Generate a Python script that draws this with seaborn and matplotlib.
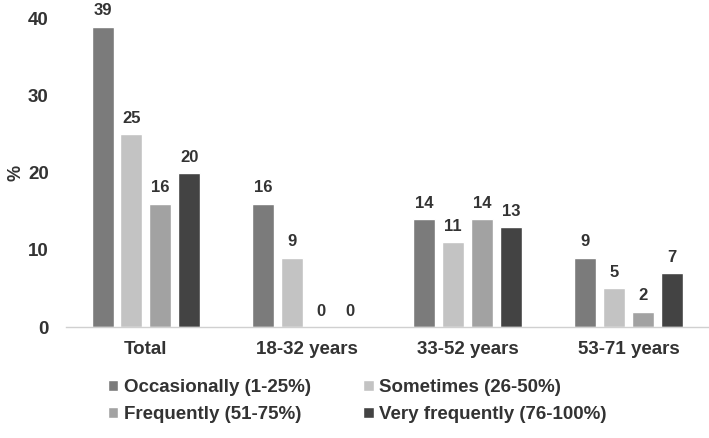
import matplotlib
matplotlib.use("Agg")
import matplotlib.pyplot as plt
import seaborn as sns
import pandas as pd

categories = ["Total", "18-32 years", "33-52 years", "53-71 years"]
series_names = ["Occasionally (1-25%)", "Sometimes (26-50%)",
                "Frequently (51-75%)", "Very frequently (76-100%)"]
occasionally = [39, 16, 14, 9]
sometimes = [25, 9, 11, 5]
frequently = [16, 0, 14, 2]
very_frequently = [20, 0, 13, 7]
colors = ["#7b7b7b", "#c3c3c3", "#a2a2a2", "#434343"]
y_ticks = [0, 10, 20, 30, 40]

rows = []
for name, vals in zip(series_names, [occasionally, sometimes, frequently, very_frequently]):
    for c, v in zip(categories, vals):
        rows.append({"group": c, "series": name, "value": v})
df = pd.DataFrame(rows)

sns.set_theme(style="white")
plt.rcParams["font.family"] = ["Liberation Sans", "DejaVu Sans"]
plt.rcParams["font.weight"] = "bold"

fig = plt.figure(figsize=(7.09, 4.38), dpi=100)
ax = fig.add_axes([0.0924, 0.2534, 0.9076, 0.7386])

sns.barplot(data=df, x="group", y="value", hue="series", order=categories,
            hue_order=series_names, palette=colors, width=0.72, gap=0.24,
            saturation=1, ax=ax, legend=True)

for cont in ax.containers:
    ax.bar_label(cont, fmt="%g", padding=6, fontsize=12, fontweight="bold",
                 color="#333333")

ax.set_ylim(0, 42)
ax.set_yticks(y_ticks)
ax.set_xlim(-0.5, 3.5)
ax.set_xlabel("")
ax.set_ylabel("%", fontsize=13, fontweight="bold", color="#333333")
ax.yaxis.set_label_coords(-0.064, 0.476)
ax.tick_params(axis="both", labelsize=13.5, colors="#333333", length=0)
for lab in ax.get_xticklabels() + ax.get_yticklabels():
    lab.set_fontweight("bold")
ax.tick_params(axis="y", pad=12)
ax.tick_params(axis="x", pad=10)
for s in ["top", "right", "left"]:
    ax.spines[s].set_visible(False)
ax.spines["bottom"].set_color("#d0d0d0")
ax.spines["bottom"].set_linewidth(1)

handles, labels = ax.get_legend_handles_labels()
ax.legend_.remove()
order = [0, 2, 1, 3]
fig.legend([handles[i] for i in order], [labels[i] for i in order],
           ncol=2, loc="upper left",
           bbox_to_anchor=(0.152, 0.135), frameon=False,
           prop={"size": 13.5, "weight": "bold"}, handlelength=0.55,
           handleheight=0.55, handletextpad=0.3, columnspacing=2.8,
           labelspacing=0.55, labelcolor="#333333", borderaxespad=0,
           borderpad=0)
fig.savefig("out.png", dpi=100)
